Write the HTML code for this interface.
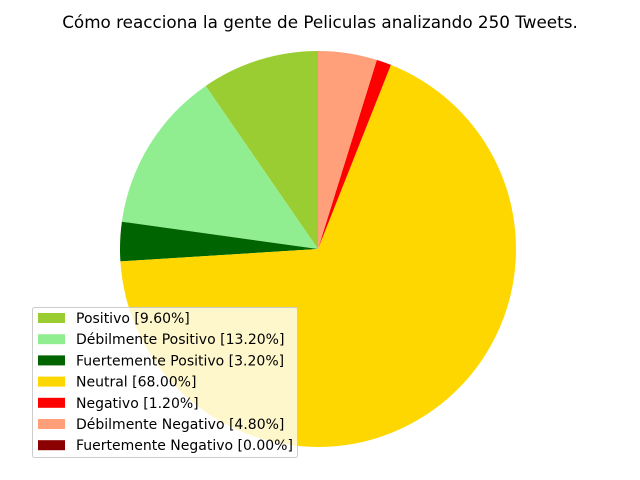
<!DOCTYPE html>
<html><head><meta charset="utf-8"><style>
body{margin:0;background:#fff;}
svg{display:block;font-family:"DejaVu Sans","Liberation Sans",sans-serif;}
</style></head><body>
<svg id="chart" width="640" height="480">
<rect width="640" height="480" fill="#fff"/>
<text x="320" y="28" text-anchor="middle" font-size="16.8" fill="#000">Cómo reacciona la gente de Peliculas analizando 250 Tweets.</text>
<g id="slices"></g>
<g id="legend"></g>
</svg>
<script>
const labels = ["Positivo","Débilmente Positivo","Fuertemente Positivo","Neutral","Negativo","Débilmente Negativo","Fuertemente Negativo"];
const values = [9.6,13.2,3.2,68.0,1.2,4.8,0.0];
const colors = ["#9acd32","#90ee90","#006400","#ffd700","#ff0000","#ffa07a","#8b0000"];
const NS="http://www.w3.org/2000/svg";
const cx=318, cy=249, r=198;
const total=values.reduce((a,b)=>a+b,0);
const g=document.getElementById('slices');
let ang=90;
values.forEach((v,i)=>{
  if(v<=0) return;
  const sweep=v/total*360;
  const a0=ang*Math.PI/180, a1=(ang+sweep)*Math.PI/180;
  const x0=cx+r*Math.cos(a0), y0=cy-r*Math.sin(a0);
  const x1=cx+r*Math.cos(a1), y1=cy-r*Math.sin(a1);
  const large=sweep>180?1:0;
  const p=document.createElementNS(NS,'path');
  p.setAttribute('d',`M${cx},${cy} L${x0},${y0} A${r},${r} 0 ${large} 0 ${x1},${y1} Z`);
  p.setAttribute('fill',colors[i]);
  
  
  g.appendChild(p);
  ang+=sweep;
});
const lg=document.getElementById('legend');
const box=document.createElementNS(NS,'rect');
box.setAttribute('x',32.5);box.setAttribute('y',307.5);box.setAttribute('width',265);box.setAttribute('height',150);
box.setAttribute('rx',2);box.setAttribute('fill','rgba(255,255,255,0.8)');box.setAttribute('stroke','#ccc');


lg.appendChild(box);
labels.forEach((l,i)=>{
  const y=318+i*21.2;
  const s=document.createElementNS(NS,'rect');
  s.setAttribute('x',38);s.setAttribute('y',y-5);s.setAttribute('width',27);s.setAttribute('height',10);s.setAttribute('fill',colors[i]);
  
  
  lg.appendChild(s);
  const t=document.createElementNS(NS,'text');
  t.setAttribute('x',76);t.setAttribute('y',y+5);t.setAttribute('font-size','14');
  t.textContent=l+' ['+values[i].toFixed(2)+'%]';
  
  
  lg.appendChild(t);
});
</script>
</body></html>
